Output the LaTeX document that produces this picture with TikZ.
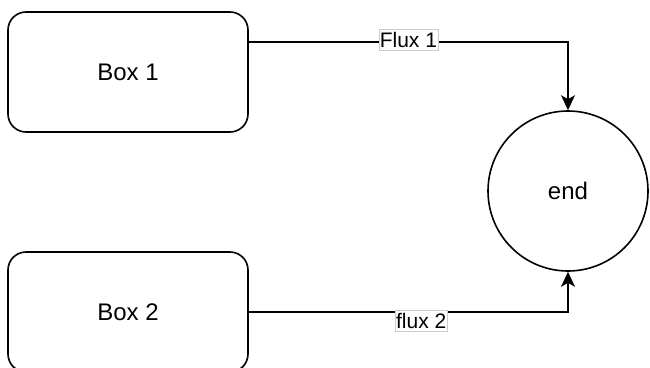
\documentclass[tikz,border=0pt]{standalone}
\usepackage{fontspec}
\setmainfont{Liberation Sans}
\usepackage{tikz}
\usetikzlibrary{arrows.meta,positioning}

\begin{document}
\begin{tikzpicture}[
    x=1pt, y=-1pt,
    box/.style={draw, line width=1.6pt, rounded corners=18pt, minimum width=240pt,
                minimum height=120pt, align=center, font=\fontsize{24}{28}\selectfont},
    sink/.style={draw, circle, line width=1.6pt, minimum size=160pt,
                 font=\fontsize{24}{28}\selectfont},
    arr/.style={-{Stealth[length=15pt, width=14pt, inset=4pt]}, line width=1.6pt},
    lbl/.style={draw=black!20, line width=0.6pt, fill=white, inner xsep=1pt,
                inner ysep=3pt, font=\fontsize{21}{24}\selectfont}
  ]
  \useasboundingbox (0,0) rectangle (650,367);
  % Boxes and end point
  \node[box] (B1) at (128, 72) {Box 1};
  \node[box] (B2) at (128, 312) {Box 2};
  \node[sink] (E) at (568, 191) {end};
  % Connectors
  \draw[arr] ([yshift=30pt]B1.east) -| (E.north)
    node[pos=0.25, yshift=2pt, lbl] {Flux 1};
  \draw[arr] (B2.east) -| (E.south)
    node[pos=0.27, anchor=north, yshift=2pt, lbl] {flux 2};
\end{tikzpicture}
\end{document}
